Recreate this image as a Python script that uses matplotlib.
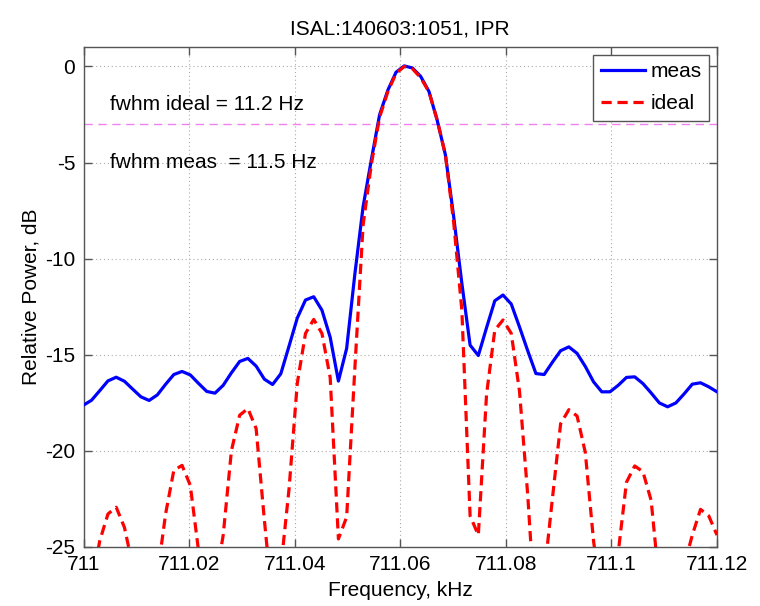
import numpy as np
import matplotlib
matplotlib.use("Agg")
import matplotlib.pyplot as plt

plt.rcParams['font.family'] = ['Liberation Sans', 'DejaVu Sans']

# frequency grid (kHz), 78 samples
freq = np.linspace(710.99994, 711.12006, 78)

meas = [-17.64, -17.38, -16.88, -16.37, -16.18, -16.39, -16.80, -17.20, -17.39, -17.10,
        -16.55, -16.04, -15.88, -16.06, -16.50, -16.92, -17.01, -16.60, -15.95, -15.36,
        -15.20, -15.60, -16.28, -16.56, -16.00, -14.56, -13.10, -12.16, -11.99, -12.69,
        -14.10, -16.38, -14.68, -10.80, -7.30, -4.86, -2.52, -1.24, -0.30, 0.03,
        -0.08, -0.52, -1.30, -2.80, -4.60, -7.80, -11.30, -14.51, -15.05, -13.60,
        -12.20, -11.90, -12.37, -13.56, -14.80, -15.99, -16.04, -15.40, -14.80, -14.60,
        -14.94, -15.62, -16.42, -16.94, -16.94, -16.60, -16.19, -16.16, -16.51, -17.00,
        -17.52, -17.72, -17.52, -17.05, -16.54, -16.47, -16.68, -16.94]

ideal = [-27.5, -27.0, -24.7, -23.3, -22.95, -24.0, -26.0, -30.0, -28.0, -26.5,
         -23.3, -21.03, -20.77, -21.81, -25.2, -29.0, -27.0, -24.4, -20.0, -18.16,
         -17.81, -18.85, -23.6, -28.0, -26.1, -22.0, -16.5, -13.9, -13.17, -13.9,
         -16.2, -24.6, -23.46, -15.7, -8.25, -5.1, -2.65, -1.32, -0.36, 0.0,
         -0.12, -0.59, -1.32, -2.78, -4.6, -8.1, -12.7, -23.4, -24.4, -17.07,
         -13.73, -13.2, -13.9, -16.9, -22.3, -29.0, -26.5, -22.5, -18.6, -17.87,
         -18.2, -20.1, -24.7, -28.0, -27.5, -25.3, -21.65, -20.8, -21.1, -22.6,
         -27.0, -29.0, -27.0, -26.0, -24.4, -23.06, -23.4, -24.4]

xticks = [711.0, 711.02, 711.04, 711.06, 711.08, 711.1, 711.12]
xticklabels = ["711", "711.02", "711.04", "711.06", "711.08", "711.1", "711.12"]
yticks = [0, -5, -10, -15, -20, -25]
half_power = -3
fwhm_ideal = 11.2
fwhm_meas = 11.5

fig = plt.figure(figsize=(7.6, 6.06), dpi=100)
ax = fig.add_axes([0.110, 0.098, 0.833, 0.824])

ax.plot(freq, meas, color='#0000ff', lw=2.3, label='meas', zorder=3)
ax.plot(freq, ideal, color='#ff0000', lw=2.3, ls=(0, (3.2, 1.8)), label='ideal', zorder=4)
ax.axhline(half_power, color='#ee82ee', lw=1.0, ls=(0, (6, 4)), zorder=2)

ax.set_xlim(711.0, 711.12)
ax.set_ylim(-25, 1)
ax.set_xticks(xticks)
ax.set_xticklabels(xticklabels)
ax.set_yticks(yticks)
ax.set_yticklabels([str(v) for v in yticks])
ax.tick_params(direction='in', top=True, right=True, labelsize=15, length=6, width=1,
               color='#555555', pad=6)
ax.grid(True, ls=(0, (1, 2.5)), color='#aaaaaa', lw=0.8)
for s in ax.spines.values():
    s.set_color('#555555')
    s.set_linewidth(1.0)

ax.text(711.005, -2.0, f"fwhm ideal = {fwhm_ideal} Hz", fontsize=15, va='center', ha='left')
ax.text(711.005, -5.0, f"fwhm meas  = {fwhm_meas} Hz", fontsize=15, va='center', ha='left')

ax.set_xlabel("Frequency, kHz", fontsize=15, labelpad=5)
ax.set_ylabel("Relative Power, dB", fontsize=15, labelpad=3)
ax.set_title("ISAL:140603:1051, IPR", fontsize=15, pad=9)

leg = ax.legend(loc='upper right', fontsize=15, fancybox=False, framealpha=1,
                edgecolor='#555555', borderaxespad=0.35, handlelength=2.1,
                handletextpad=0.25, borderpad=0.38, labelspacing=0.62)
leg.get_frame().set_linewidth(1.0)

fig.savefig("out.png", dpi=100)
